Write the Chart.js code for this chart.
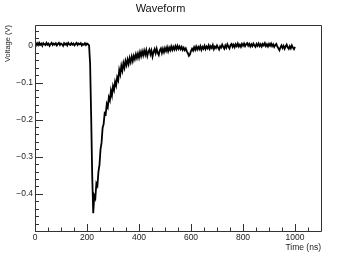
<!DOCTYPE html>
<html>
<head>
<meta charset="utf-8">
<script src="https://cdn.jsdelivr.net/npm/chart.js@4/dist/chart.umd.min.js"></script>
<style>
  html, body { margin: 0; padding: 0; background: #fff; }
  canvas { display: block; }
</style>
</head>
<body>
<canvas id="waveChart" width="357" height="257"></canvas>
<script>
// sampling of the trace (ns)
const sampleStep = 4;
const startTime = 0;

// voltage samples (V), one every 4 ns
// baseline, t = 0 .. 204
const baseline = [
  0.004, 0.000, 0.006, 0.001, 0.007, 0.002, 0.005, -0.001, 0.006, 0.003,
  0.001, 0.007, 0.002, 0.005, -0.001, 0.004, 0.007, 0.001, 0.005, 0.002,
  0.006, 0.000, 0.004, 0.007, 0.001, 0.005, 0.003, -0.001, 0.006, 0.002,
  0.005, 0.000, 0.007, 0.003, 0.001, 0.006, 0.002, 0.005, 0.000, 0.004,
  0.007, 0.001, 0.005, 0.003, 0.006, 0.000, 0.004, 0.002, 0.006, 0.001,
  0.005, 0.003
];
// pulse and recovery, t = 208 .. 560
const pulse = [
  0.000, -0.05, -0.19, -0.35, -0.452, -0.405, -0.412, -0.372, -0.378, -0.34,
  -0.322, -0.28, -0.262, -0.222, -0.212, -0.182, -0.185, -0.158, -0.166, -0.14,
  -0.148, -0.122, -0.135, -0.11, -0.12, -0.098, -0.108, -0.086, -0.094, -0.066,
  -0.078, -0.055, -0.068, -0.048, -0.06, -0.042, -0.053, -0.038, -0.05, -0.034,
  -0.045, -0.03, -0.042, -0.028, -0.037, -0.024, -0.034, -0.022, -0.033, -0.018,
  -0.029, -0.016, -0.027, -0.014, -0.025, -0.013, -0.028, -0.017, -0.011, -0.024,
  -0.014, -0.03, -0.018, -0.01, -0.021, -0.009, -0.02, -0.026, -0.013, -0.008,
  -0.02, -0.009, -0.018, -0.007, -0.015, -0.005, -0.016, -0.006, -0.013, -0.003,
  -0.012, -0.004, -0.011, -0.002, -0.01, -0.001, -0.009, -0.003, -0.01
];
// tail, t = 564 .. 1000
const tail = [
  -0.004, -0.012, -0.006, -0.013, -0.008, -0.016, -0.021, -0.028, -0.024, -0.015,
  -0.009, -0.014, -0.005, -0.012, -0.003, -0.011, -0.004, -0.01, -0.002, -0.012,
  -0.004, -0.009, -0.001, -0.01, -0.003, -0.008, 0.000, -0.009, -0.002, -0.007,
  0.001, -0.01, -0.003, -0.007, 0.000, -0.006, -0.011, -0.002, -0.006, 0.002,
  -0.004, -0.009, 0.000, -0.006, 0.003, -0.003, -0.008, 0.001, 0.004, -0.004,
  0.002, -0.005, 0.003, -0.002, 0.005, -0.003, 0.002, -0.004, 0.004, -0.001,
  0.005, -0.002, 0.003, 0.006, -0.001, 0.004, -0.003, 0.003, -0.002, 0.005,
  0.000, -0.004, 0.004, -0.001, 0.005, -0.002, 0.003, -0.003, 0.004, 0.000,
  0.006, -0.002, 0.003, -0.003, 0.004, -0.001, 0.005, -0.002, 0.003, -0.004,
  0.001, 0.004, -0.003, -0.008, -0.013, -0.005, 0.000, -0.007, -0.001, -0.009,
  -0.003, 0.002, -0.005, -0.009, -0.002, -0.008, 0.000, -0.006, -0.01, -0.004
];

// axis ticks
const xTicks = [0, 200, 400, 600, 800, 1000];
const yTicks = [-0.4, -0.3, -0.2, -0.1, 0];

const voltage = baseline.concat(pulse, tail);
const points = voltage.map((v, i) => ({ x: startTime + i * sampleStep, y: v }));

const fontFamily = '"Liberation Sans", Arial, Helvetica, sans-serif';

// ROOT-like frame with inward major/minor ticks
const frameTicks = {
  id: 'frameTicks',
  afterDraw(chart) {
    const { ctx, chartArea: a, scales } = chart;
    ctx.save();
    ctx.strokeStyle = '#333';
    ctx.lineWidth = 1;
    ctx.beginPath();
    ctx.rect(Math.round(a.left) + 0.5, Math.round(a.top) + 0.5,
             Math.round(a.right - a.left), Math.round(a.bottom - a.top));
    ctx.stroke();

    ctx.beginPath();
    const xs = scales.x;
    for (let k = 0; k * 50 <= xs.max; k++) {
      const px = Math.round(xs.getPixelForValue(k * 50)) + 0.5;
      const len = k % 4 === 0 ? 7 : 3.5;
      ctx.moveTo(px, a.bottom);
      ctx.lineTo(px, a.bottom - len);
    }
    const ys = scales.y;
    for (let k = -25; k * 0.02 <= ys.max; k++) {
      const v = k * 0.02;
      if (v < ys.min) continue;
      const py = Math.round(ys.getPixelForValue(v)) + 0.5;
      const len = k % 5 === 0 ? 8 : 4;
      ctx.moveTo(a.left, py);
      ctx.lineTo(a.left + len, py);
    }
    ctx.stroke();
    ctx.restore();
  }
};

new Chart(document.getElementById('waveChart'), {
  type: 'line',
  data: {
    datasets: [{
      data: points,
      borderColor: '#000',
      borderWidth: 1.8,
      pointRadius: 0,
      tension: 0,
      fill: false
    }]
  },
  options: {
    responsive: false,
    animation: false,
    layout: { padding: { left: 0, right: 36, top: 0, bottom: 0 } },
    plugins: {
      legend: { display: false },
      tooltip: { enabled: false },
      title: {
        display: true,
        text: 'Waveform',
        color: '#111',
        font: { family: fontFamily, size: 11, weight: 'normal' },
        padding: { top: 2, bottom: 9.8 }
      }
    },
    scales: {
      x: {
        type: 'linear',
        min: 0,
        max: 1100,
        afterFit(s) { s.height = 26; },
        afterBuildTicks(s) { s.ticks = xTicks.map(v => ({ value: v })); },
        grid: { display: false, drawTicks: false },
        border: { display: false },
        ticks: {
          padding: 2,
          color: '#222',
          font: { family: fontFamily, size: 8.5 },
          maxRotation: 0,
          autoSkip: false,
          callback: v => String(v)
        },
        title: {
          display: true,
          text: 'Time (ns)',
          align: 'end',
          color: '#222',
          font: { family: fontFamily, size: 8.5 },
          padding: { top: 0, bottom: 4 }
        }
      },
      y: {
        type: 'linear',
        min: -0.5,
        max: 0.055,
        afterFit(s) { s.width = 35; },
        afterBuildTicks(s) { s.ticks = yTicks.map(v => ({ value: v })); },
        grid: { display: false, drawTicks: false },
        border: { display: false },
        ticks: {
          padding: 2,
          color: '#222',
          font: { family: fontFamily, size: 8.5 },
          autoSkip: false,
          callback: v => (v === 0 ? '0' : '\u2212' + Math.abs(v).toFixed(1))
        },
        title: {
          display: true,
          text: 'Voltage (V)',
          align: 'end',
          color: '#222',
          font: { family: fontFamily, size: 7.5 },
          padding: { top: 3, bottom: 0 }
        }
      }
    }
  },
  plugins: [frameTicks]
});
</script>
</body>
</html>
